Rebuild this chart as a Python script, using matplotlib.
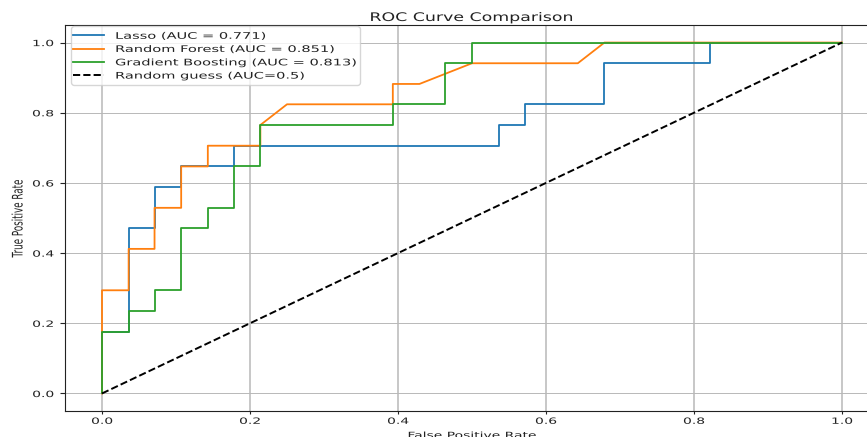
import matplotlib
matplotlib.use("Agg")
import matplotlib.pyplot as plt
from matplotlib.patheffects import AbstractPathEffect
from matplotlib.transforms import Affine2D

# ---------------- data ----------------
lasso_fpr = [0.0, 0.0, 0.036, 0.036, 0.071, 0.071, 0.107, 0.107, 0.179, 0.179,
             0.536, 0.536, 0.571, 0.571, 0.679, 0.679, 0.821, 0.821, 1.0]
lasso_tpr = [0.0, 0.176, 0.176, 0.471, 0.471, 0.588, 0.588, 0.647, 0.647, 0.706,
             0.706, 0.765, 0.765, 0.824, 0.824, 0.941, 0.941, 1.0, 1.0]

rf_fpr = [0.0, 0.0, 0.036, 0.036, 0.071, 0.071, 0.107, 0.107, 0.143, 0.143,
          0.214, 0.214, 0.25, 0.393, 0.393, 0.429, 0.5, 0.643, 0.679, 1.0]
rf_tpr = [0.0, 0.294, 0.294, 0.412, 0.412, 0.529, 0.529, 0.647, 0.647, 0.706,
          0.706, 0.765, 0.824, 0.824, 0.882, 0.882, 0.941, 0.941, 1.0, 1.0]

gb_fpr = [0.0, 0.0, 0.036, 0.036, 0.071, 0.071, 0.107, 0.107, 0.143, 0.143,
          0.179, 0.179, 0.214, 0.214, 0.393, 0.393, 0.464, 0.464, 0.5, 0.5, 1.0]
gb_tpr = [0.0, 0.176, 0.176, 0.235, 0.235, 0.294, 0.294, 0.471, 0.471, 0.529,
          0.529, 0.647, 0.647, 0.765, 0.765, 0.824, 0.824, 0.941, 0.941, 1.0, 1.0]

model_names = ["Lasso", "Random Forest", "Gradient Boosting"]
model_auc = [0.771, 0.851, 0.813]
guess_x = [0.0, 1.0]
guess_y = [0.0, 1.0]
guess_label = "Random guess (AUC=0.5)"
ticks = [0.0, 0.2, 0.4, 0.6, 0.8, 1.0]
title = "ROC Curve Comparison"
xlabel = "False Positive Rate"
ylabel = "True Positive Rate"


# ------------- glyph squash (reference is vertically compressed) -------------
class Squash(AbstractPathEffect):
    def __init__(self, sy, sx=1.0, anchor="center"):
        super().__init__((0.0, 0.0))
        self.sy = sy
        self.sx = sx
        self.anchor = anchor

    def draw_path(self, renderer, gc, tpath, affine, rgbFace=None):
        m = affine.get_matrix()
        ext = tpath.get_extents(affine)
        cx = 0.5 * (ext.x0 + ext.x1)
        if self.anchor == "center":
            cy = 0.5 * (ext.y0 + ext.y1)
        else:
            cy = m[1, 2]
        s = Affine2D().translate(-cx, -cy).scale(self.sx, self.sy).translate(cx, cy)
        new = Affine2D(s.get_matrix() @ m)
        renderer.draw_path(gc, tpath, new, rgbFace)


W, H = 867, 437
fig = plt.figure(figsize=(W / 100, H / 100), dpi=100)
ax_left, ax_right, ax_top, ax_bottom = 65, 879, 25, 411
ax = fig.add_axes([ax_left / W, (H - ax_bottom) / H,
                   (ax_right - ax_left) / W, (ax_bottom - ax_top) / H])

lw = 1.3
ax.plot(lasso_fpr, lasso_tpr, color="#1f77b4", lw=lw,
        label=f"{model_names[0]} (AUC = {model_auc[0]:.3f})")
ax.plot(rf_fpr, rf_tpr, color="#ff7f0e", lw=lw,
        label=f"{model_names[1]} (AUC = {model_auc[1]:.3f})")
ax.plot(gb_fpr, gb_tpr, color="#2ca02c", lw=lw,
        label=f"{model_names[2]} (AUC = {model_auc[2]:.3f})")
ax.plot(guess_x, guess_y, "k--", lw=1.4, label=guess_label)

ax.set_xlim(-0.05, 1.05)
ax.set_ylim(-0.05, 1.05)
ax.set_xticks(ticks)
ax.set_yticks(ticks)
ax.xaxis.grid(True, color="#b8b8b8", lw=1.1)
ax.yaxis.grid(True, color="#b8b8b8", lw=0.7)
ax.set_axisbelow(True)

ax.tick_params(axis="x", length=2.2, pad=0.5, labelsize=10, colors="#222222")
ax.tick_params(axis="y", length=3.5, pad=4.4, labelsize=10, colors="#222222")
for sp in ax.spines.values():
    sp.set_color("#222222")

tick_pe = [Squash(0.62)]
for t in ax.get_xticklabels() + ax.get_yticklabels():
    t.set_path_effects(tick_pe)

ttl = ax.set_title(title, fontsize=12.5, pad=2.9, color="#222222")
ttl.set_path_effects([Squash(0.68, anchor="baseline")])
xl = ax.set_xlabel(xlabel, fontsize=10, labelpad=0.2, color="#222222")
xl.set_path_effects([Squash(0.62)])
yl = ax.set_ylabel(ylabel, fontsize=10.5, labelpad=4.7, color="#222222")
yl.set_path_effects([Squash(0.6)])

# legend: measure text height, then set spacing so rows match the reference
leg_fs = 10.5
leg_px = leg_fs * 100 / 72
leg = ax.legend(fontsize=leg_fs)
fig.canvas.draw()
h = leg.get_texts()[0].get_window_extent().height
leg.remove()
pitch = 13.2
ls = (pitch - h) / leg_px
leg = ax.legend(fontsize=leg_fs, loc="upper left",
                bbox_to_anchor=((71.3 - ax_left) / (ax_right - ax_left),
                                1 - (26.3 - ax_top) / (ax_bottom - ax_top)),
                borderaxespad=0, borderpad=0.15, labelspacing=ls,
                handlelength=2.1, handletextpad=0.75)
for t in leg.get_texts():
    t.set_path_effects([Squash(0.62)])
    t.set_color("#222222")

fig.savefig("out.png", dpi=100)
